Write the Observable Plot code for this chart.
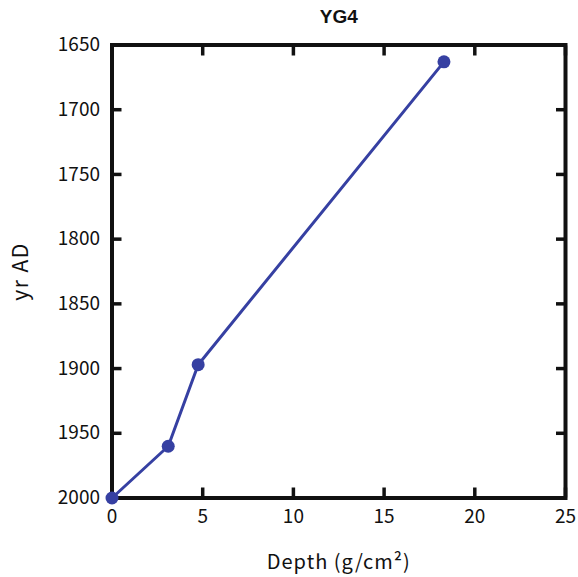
<!DOCTYPE html>
<html>
<head>
<meta charset="utf-8">
<script src="https://cdn.jsdelivr.net/npm/d3@7"></script>
<script src="https://cdn.jsdelivr.net/npm/@observablehq/plot@0.6"></script>
<style>
  html, body { margin: 0; padding: 0; background: #fff; }
  #chart svg { display: block; }
  #chart svg [aria-label="x-axis label"] text { letter-spacing: 1px; }
  #chart svg [aria-label="y-axis label"] text { letter-spacing: 1.5px; }
</style>
</head>
<body>
<div id="chart"></div>
<script>
// Core YG4: age–depth model
const title = "YG4";
const depth = [0, 3.1, 4.75, 18.3];          // g/cm²
const yearAD = [2000, 1960, 1897, 1663];     // yr AD
const xTicks = [0, 5, 10, 15, 20, 25];
const yTicks = [1650, 1700, 1750, 1800, 1850, 1900, 1950, 2000];
const xLabel = "Depth (g/cm²)";
const yLabel = "yr AD";

const rows = depth.map((d, i) => ({depth: d, year: yearAD[i]}));

const ink = "#111";
const blue = "#3640a2";
const font = "'Noto Sans CJK JP', 'Noto Sans', sans-serif";
const blank = () => "";

const chart = Plot.plot({
  width: 578,
  height: 577,
  marginLeft: 111.5,
  marginRight: 13,
  marginTop: 44.5,
  marginBottom: 79.5,
  style: {fontFamily: font, fontSize: "19px", color: ink, background: "#fff"},
  x: {domain: [0, 25]},
  y: {domain: [1650, 2000], reverse: true},
  marks: [
    // inward ticks and numbers on bottom/left, bare inward ticks on top/right
    Plot.axisX(xTicks, {anchor: "bottom", tickSize: -10, tickPadding: 21, strokeWidth: 3.5, stroke: ink,
      tickFormat: "d", fontSize: 19, label: null}),
    Plot.axisX({anchor: "bottom", ticks: [], label: xLabel, labelAnchor: "center", labelArrow: "none",
      labelOffset: 71, fontSize: 20}),
    Plot.axisX(xTicks, {anchor: "top", tickSize: -10, strokeWidth: 3.5, stroke: ink, tickFormat: blank, label: null}),
    Plot.axisY(yTicks, {anchor: "left", tickSize: -10, tickPadding: 22, strokeWidth: 3.5, stroke: ink,
      tickFormat: "d", fontSize: 19, label: null}),
    Plot.axisY({anchor: "left", ticks: [], label: yLabel, labelAnchor: "center", labelArrow: "none",
      labelOffset: 99, fontSize: 21}),
    Plot.axisY(yTicks, {anchor: "right", tickSize: -10, strokeWidth: 3.5, stroke: ink, tickFormat: blank, label: null}),
    Plot.frame({stroke: ink, strokeWidth: 4}),
    Plot.line(rows, {x: "depth", y: "year", stroke: blue, strokeWidth: 3}),
    Plot.dot(rows, {x: "depth", y: "year", r: 6.5, fill: blue, stroke: "none"}),
    Plot.text([title], {frameAnchor: "top", dy: -36, fontWeight: "bold", fontSize: 19,
      fontFamily: "'Liberation Sans', Arial, sans-serif", fill: ink})
  ]
});

document.getElementById("chart").appendChild(chart);
</script>
</body>
</html>
